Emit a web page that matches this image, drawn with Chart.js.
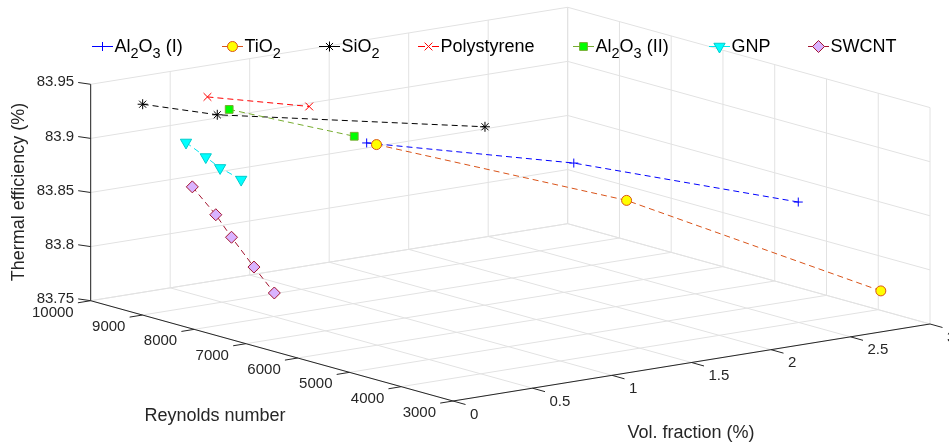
<!DOCTYPE html>
<html lang="en">
<head>
  <meta charset="UTF-8" />
  <title>Thermal efficiency | Reynolds number vs vol. fraction</title>
  <script src="https://cdn.jsdelivr.net/npm/chart.js"></script>
  <style>
    html, body { margin: 0; padding: 0; background: #fff; }
    #wrap { position: relative; width: 949px; height: 447px; }
  </style>
</head>
<body>
<div id="wrap"><canvas id="effChart"></canvas></div>

<script>
// Axis ticks
const volTicks = [0, 0.5, 1, 1.5, 2, 2.5, 3];
const reTicks = [3000, 4000, 5000, 6000, 7000, 8000, 9000, 10000];
const effTicks = [83.75, 83.8, 83.85, 83.9, 83.95];

// Series ('_' marks a subscript character)
const seriesNames = ['Al_2O_3 (I)', 'TiO_2', 'SiO_2', 'Polystyrene', 'Al_2O_3 (II)', 'GNP', 'SWCNT'];

// vol. fraction (%), Reynolds number, thermal efficiency (%)
const al2o3IVol = [1, 2, 3];
const al2o3IRe  = [7740, 6810, 5545];
const al2o3IEff = [83.902, 83.872, 83.829];

const tio2Vol = [1, 2, 3];
const tio2Re  = [7550, 5790, 3950];
const tio2Eff = [83.903, 83.851, 83.768];

const sio2Vol = [0.2, 0.5, 1.5];
const sio2Re  = [9610, 9090, 6990];
const sio2Eff = [83.932, 83.922, 83.915];

const psVol = [0.5, 1];
const psRe  = [9280, 8850];
const psEff = [83.936, 83.921];

const al2o3IIVol = [0.5, 1];
const al2o3IIRe  = [8860, 7980];
const al2o3IIEff = [83.930, 83.905];

const gnpVol = [0.025, 0.05, 0.075, 0.1];
const gnpRe  = [8235, 7930, 7730, 7400];
const gnpEff = [83.919, 83.909, 83.901, 83.894];

const swcntVol = [0.05, 0.1, 0.15, 0.2, 0.25];
const swcntRe  = [8190, 7890, 7740, 7460, 7220];
const swcntEff = [83.878, 83.855, 83.835, 83.810, 83.788];

const seriesData = [
  [al2o3IVol, al2o3IRe, al2o3IEff],
  [tio2Vol, tio2Re, tio2Eff],
  [sio2Vol, sio2Re, sio2Eff],
  [psVol, psRe, psEff],
  [al2o3IIVol, al2o3IIRe, al2o3IIEff],
  [gnpVol, gnpRe, gnpEff],
  [swcntVol, swcntRe, swcntEff]
];

// Styles (MATLAB-like)
const lineColors   = ['#0000ff', '#d95319', '#000000', '#ff0000', '#77ac30', '#00e5ee', '#a2142f'];
const markerFill   = ['#0000ff', '#ffff00', '#000000', '#ff0000', '#00ff00', '#00ffff', '#d9b3ff'];
const markerEdge   = ['#0000ff', '#d95319', '#000000', '#ff0000', '#77ac30', '#00cccc', '#a2142f'];
const markerStyle  = ['cross', 'circle', 'star', 'crossRot', 'rect', 'triangle', 'rectRot'];
const markerRadius = [4.5, 5, 5, 5.5, 5.5, 6.5, 6];
const markerRot    = [0, 0, 0, 0, 0, 180, 0];
const legendX      = [92, 222, 319, 418, 573, 709, 808];

const FONT = "'Liberation Sans', Arial, Helvetica, sans-serif";
const AXIS_COLOR = '#262626';
const GRID_COLOR = '#e2e2e2';

// 3D view: screen position of the (vol 0, Re 3000, eff 83.75) corner
// and screen steps for one unit along each axis (orthographic)
const view = {
  origin: [453, 401],
  perVol: [159, -25.67],      // per 1 % vol. fraction
  perRe: [-0.05176, -0.01433],// per 1 Reynolds
  perEff: [0, -1082]          // per 1 % efficiency
};
const volMin = 0, volMax = 3, reMin = 3000, reMax = 10000, effMin = 83.75, effMax = 83.95;

function project(v, re, eff) {
  const dv = v - volMin, dr = re - reMin, de = eff - effMin;
  return {
    x: view.origin[0] + dv * view.perVol[0] + dr * view.perRe[0] + de * view.perEff[0],
    y: view.origin[1] + dv * view.perVol[1] + dr * view.perRe[1] + de * view.perEff[1]
  };
}

// draws text with '_x' subscripts, returns width
function drawRich(ctx, text, x, baseline) {
  const parts = [];
  let buf = '';
  for (let i = 0; i < text.length; i++) {
    if (text[i] === '_' && i + 1 < text.length) {
      if (buf) parts.push([buf, false]);
      parts.push([text[i + 1], true]);
      buf = '';
      i++;
    } else {
      buf += text[i];
    }
  }
  if (buf) parts.push([buf, false]);
  let cx = x;
  parts.forEach(([t, sub]) => {
    ctx.font = sub ? '14.5px ' + FONT : '18px ' + FONT;
    ctx.fillText(t, cx, sub ? baseline + 6.5 : baseline);
    cx += ctx.measureText(t).width;
  });
  return cx - x;
}

const box3d = {
  id: 'box3d',
  beforeDatasetsDraw(chart) {
    const ctx = chart.ctx;
    const sx = chart.scales.x, sy = chart.scales.y;
    const px = (v, re, eff) => {
      const p = project(v, re, eff);
      return [sx.getPixelForValue(p.x), sy.getPixelForValue(p.y)];
    };
    const seg = (a, b) => {
      ctx.beginPath();
      ctx.moveTo(a[0], a[1]);
      ctx.lineTo(b[0], b[1]);
      ctx.stroke();
    };

    ctx.save();
    // grid: floor, back wall Re = max, back wall vol = max
    ctx.strokeStyle = GRID_COLOR;
    ctx.lineWidth = 1;
    volTicks.forEach(v => {
      seg(px(v, reMin, effMin), px(v, reMax, effMin));
      seg(px(v, reMax, effMin), px(v, reMax, effMax));
    });
    reTicks.forEach(r => {
      seg(px(volMin, r, effMin), px(volMax, r, effMin));
      seg(px(volMax, r, effMin), px(volMax, r, effMax));
    });
    effTicks.forEach(e => {
      seg(px(volMin, reMax, e), px(volMax, reMax, e));
      seg(px(volMax, reMax, e), px(volMax, reMin, e));
    });

    // axis lines
    ctx.strokeStyle = AXIS_COLOR;
    seg(px(volMin, reMax, effMin), px(volMin, reMax, effMax));
    seg(px(volMin, reMax, effMin), px(volMin, reMin, effMin));
    seg(px(volMin, reMin, effMin), px(volMax, reMin, effMin));

    ctx.fillStyle = AXIS_COLOR;
    ctx.font = '15px ' + FONT;
    ctx.textBaseline = 'middle';

    // efficiency ticks
    ctx.textAlign = 'right';
    effTicks.forEach(e => {
      const p = px(volMin, reMax, e);
      seg(p, [p[0] - 12.5, p[1] - 1.8]);
      ctx.fillText(String(e), p[0] - 16.5, p[1] - 2);
    });
    // Reynolds ticks
    reTicks.forEach(r => {
      const p = px(volMin, r, effMin);
      seg(p, [p[0] - 12.8, p[1] + 2.1]);
      ctx.fillText(String(r), p[0] - 17, p[1] + 12);
    });
    // vol. fraction ticks
    ctx.textAlign = 'left';
    volTicks.forEach(v => {
      const p = px(v, reMin, effMin);
      seg(p, [p[0] + 12.5, p[1] + 3.5]);
      ctx.fillText(String(v), p[0] + 17, p[1] + 13.5);
    });

    // axis titles
    ctx.font = '18px ' + FONT;
    ctx.textAlign = 'center';
    ctx.fillText('Reynolds number', 215, 416);
    ctx.fillText('Vol. fraction (%)', 691, 433);
    ctx.translate(19.5, 192);
    ctx.rotate(-Math.PI / 2);
    ctx.fillText('Thermal efficiency (%)', 0, 0);
    ctx.restore();
  },
  afterDraw(chart) {
    // legend in one row
    const ctx = chart.ctx;
    ctx.save();
    const y = 46.5;
    seriesNames.forEach((name, i) => {
      const x = legendX[i];
      ctx.strokeStyle = lineColors[i];
      ctx.lineWidth = 1;
      ctx.setLineDash([7, 7]);
      ctx.beginPath();
      ctx.moveTo(x, y);
      ctx.lineTo(x + 21, y);
      ctx.stroke();
      ctx.setLineDash([]);
      ctx.fillStyle = markerFill[i];
      ctx.strokeStyle = markerEdge[i];
      Chart.helpers.drawPoint(ctx, {
        pointStyle: markerStyle[i],
        radius: markerRadius[i],
        rotation: markerRot[i],
        borderWidth: 1
      }, x + 10.5, y);
      ctx.fillStyle = '#000';
      ctx.textAlign = 'left';
      ctx.textBaseline = 'alphabetic';
      drawRich(ctx, name, x + 22.5, 51.5);
    });
    ctx.restore();
  }
};

const datasets = seriesData.map(([vol, re, eff], i) => ({
  label: seriesNames[i].replace(/_/g, ''),
  data: vol.map((v, k) => project(v, re[k], eff[k])),
  showLine: true,
  borderColor: lineColors[i],
  borderWidth: 1,
  borderDash: [6, 4],
  pointStyle: markerStyle[i],
  pointRadius: markerRadius[i],
  pointRotation: markerRot[i],
  pointBackgroundColor: markerFill[i],
  pointBorderColor: markerEdge[i],
  pointBorderWidth: 1,
  order: seriesNames.length - i,
  clip: false
}));

new Chart(document.getElementById('effChart').getContext('2d'), {
  type: 'scatter',
  data: { datasets },
  options: {
    responsive: true,
    maintainAspectRatio: false,
    animation: false,
    layout: { padding: 0, autoPadding: false },
    plugins: { legend: { display: false }, tooltip: { enabled: false } },
    scales: {
      x: { type: 'linear', min: 0, max: 949, display: false },
      y: { type: 'linear', min: 0, max: 447, reverse: true, display: false }
    }
  },
  plugins: [box3d]
});
</script>
</body>
</html>
